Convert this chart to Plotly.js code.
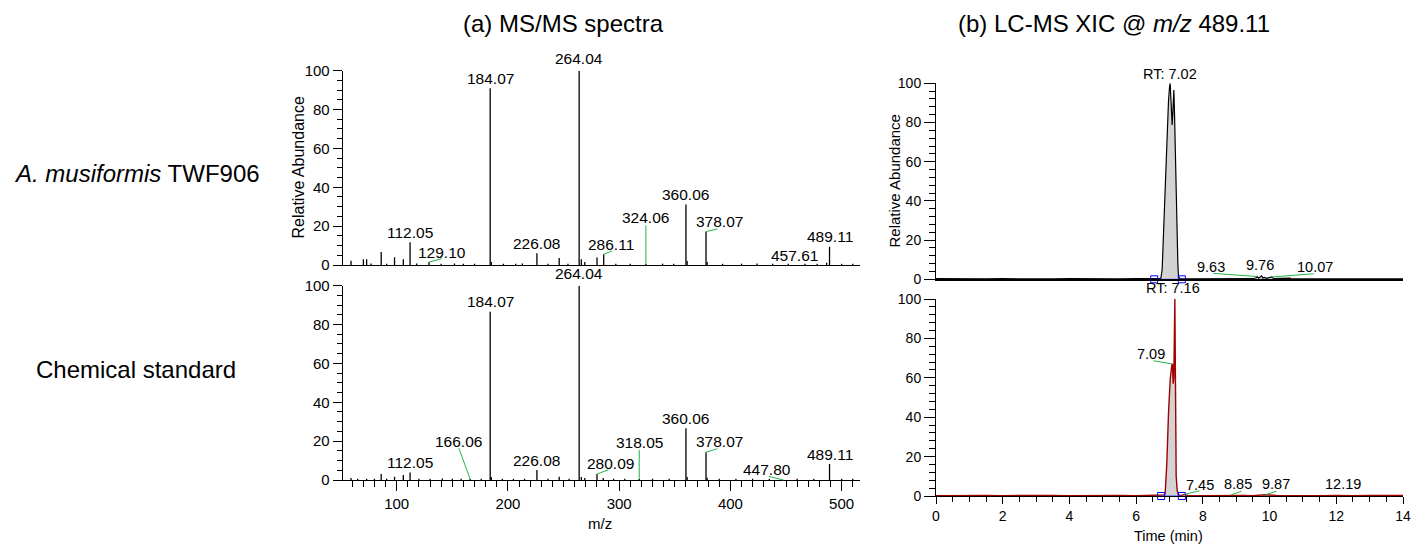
<!DOCTYPE html>
<html><head><meta charset="utf-8">
<script src="https://cdn.plot.ly/plotly-3.0.1.min.js"></script>
<style>html,body{margin:0;padding:0;background:#fff}#chart{width:1428px;height:549px}</style>
</head><body><div id="chart"></div>
<script>
// ---------------- DATA ----------------
// (a) MS/MS spectrum, A. musiformis TWF906
const specA_mz  = [59.0, 70.1, 73.0, 77.0, 86.1, 91.0, 98.1, 106.0, 112.05, 118.0,
                   129.10, 140.0, 152.0, 160.0, 170.0, 184.07, 185.1, 196.0, 207.0, 213.0,
                   226.08, 236.0, 246.1, 254.0, 264.04, 266.0, 269.1, 280.1, 286.11, 297.0,
                   310.0, 324.06, 339.0, 349.0, 360.06, 361.1, 378.07, 379.1, 393.0, 410.0,
                   424.0, 438.0, 452.0, 457.61, 467.0, 478.0, 486.5, 489.11, 500.0, 510.0];
const specA_int = [2.2, 3.0, 3.0, 0.8, 6.7, 0.7, 4.0, 3.0, 11.7, 0.8,
                   1.5, 0.6, 0.8, 0.6, 0.7, 91.0, 1.5, 0.6, 0.7, 0.8,
                   6.0, 0.6, 3.6, 0.7, 100, 3.0, 1.5, 3.8, 5.5, 0.7,
                   0.6, 0.6, 0.7, 0.6, 31.2, 2.0, 17.2, 1.5, 0.6, 0.7,
                   0.8, 0.6, 0.7, 0.0, 0.6, 0.7, 1.2, 9.4, 0.6, 0.7];
const specA_labels = ["112.05","129.10","184.07","226.08","264.04","286.11","324.06","360.06","378.07","457.61","489.11"];

// (a) MS/MS spectrum, chemical standard
const specB_mz  = [59.0, 65.0, 73.0, 80.0, 86.1, 91.0, 98.1, 106.0, 112.05, 120.0,
                   130.0, 141.0, 150.0, 158.0, 166.06, 176.0, 184.07, 185.1, 195.0, 205.0,
                   215.0, 226.08, 236.0, 246.1, 255.0, 264.04, 266.0, 269.1, 280.09, 285.7,
                   295.0, 305.0, 318.05, 330.0, 345.0, 360.06, 361.1, 378.07, 379.1, 390.0,
                   405.0, 420.0, 435.0, 447.80, 460.0, 475.0, 489.11, 500.0, 510.0];
const specB_int = [1.0, 0.6, 0.7, 0.6, 3.1, 0.6, 1.7, 2.6, 3.8, 0.7,
                   0.6, 0.8, 0.6, 0.7, 0.5, 0.6, 86.6, 1.5, 0.6, 0.7,
                   0.6, 5.1, 0.7, 1.7, 0.6, 100, 1.5, 1.0, 3.1, 1.0,
                   0.6, 0.7, 0.5, 0.6, 0.7, 26.6, 1.5, 14.3, 1.2, 0.6,
                   0.7, 0.6, 0.7, 0.0, 0.6, 0.7, 8.2, 0.6, 0.7];
const specB_labels = ["112.05","166.06","184.07","226.08","264.04","280.09","318.05","360.06","378.07","447.80","489.11"];

// (b) LC-MS XIC @ m/z 489.11, A. musiformis TWF906
const xicA_t   = [0, 0.5, 1, 1.5, 2, 2.5, 3, 3.5, 4, 4.5, 5, 5.5, 6, 6.5,
                  6.74, 6.78, 6.82, 6.86, 6.9, 6.94, 6.97, 7.0, 7.02, 7.04,
                  7.06, 7.08, 7.1, 7.13, 7.15, 7.17, 7.2, 7.22, 7.25, 7.27,
                  7.32, 7.5, 8, 8.5, 9, 9.5, 9.6, 9.63, 9.67, 9.72,
                  9.76, 9.8, 9.85, 9.9, 10.0, 10.07, 10.12, 10.6, 10.65, 11,
                  11.5, 12, 12.5, 13, 13.5, 14];
const xicA_int = [0.3, 0.2, 0.3, 0.2, 0.3, 0.2, 0.3, 0.2, 0.3, 0.2, 0.3, 0.2, 0.3, 0.3,
                  0.5, 5, 23.5, 45, 66, 82, 91, 98, 100, 93,
                  84, 78.7, 85, 96.6, 85, 66, 42, 23.5, 8, 1.3,
                  0.3, 0.2, 0.3, 0.2, 0.3, 0.3, 0.8, 1.4, 0.6, 1.2,
                  1.8, 0.7, 1.0, 0.5, 0.8, 1.2, 0.3, 0.6, 0.2, 0.2,
                  0.3, 0.2, 0.3, 0.2, 0.3, 0.2];
const xicA_label_t    = [7.02, 9.63, 9.76, 10.07];
const xicA_label_text = ["RT: 7.02", "9.63", "9.76", "10.07"];
const xicA_bounds = [6.54, 7.37];

// (b) LC-MS XIC @ m/z 489.11, chemical standard
const xicB_t   = [0, 0.5, 1, 1.5, 2, 2.5, 3, 3.5, 4, 4.5, 5, 5.5, 6, 6.5,
                  6.75, 6.84, 6.87, 6.92, 6.97, 7.02, 7.07, 7.09, 7.11, 7.13,
                  7.16, 7.18, 7.20, 7.23, 7.26, 7.3, 7.37, 7.45, 7.55, 8,
                  8.5, 8.85, 9.2, 9.5, 9.87, 10.2, 10.5, 11, 11.5, 12,
                  12.19, 12.5, 13, 13.5, 14];
const xicB_int = [0.2, 0.3, 0.2, 0.3, 0.2, 0.3, 0.2, 0.3, 0.2, 0.3, 0.2, 0.3, 0.2, 0.3,
                  0.3, 0.5, 1.4, 16.6, 42, 59, 66.5, 67, 57, 60,
                  100, 45, 10, 3, 1, 0.4, 0.3, 0.8, 0.3, 0.2,
                  0.3, 0.6, 0.3, 0.2, 0.6, 0.3, 0.2, 0.3, 0.2, 0.3,
                  0.4, 0.2, 0.3, 0.2, 0.3];
const xicB_label_t    = [7.16, 7.09, 7.45, 8.85, 9.87, 12.19];
const xicB_label_text = ["RT: 7.16", "7.09", "7.45", "8.85", "9.87", "12.19"];
const xicB_bounds = [6.75, 7.37];

const mzTicks = [100, 200, 300, 400, 500];
const timeTicks = [0, 2, 4, 6, 8, 10, 12, 14];
const abundTicks = [0, 20, 40, 60, 80, 100];

// ---------------- STYLE ----------------
const FONT = "Liberation Sans, Arial, Helvetica, sans-serif";
const GREEN = "#22b448";
const W = 1428, H = 549;
const px2x = p => p / W, px2y = p => 1 - p / H;

// label offsets in px (label centre relative to peak top; c = connector tail)
const offA = {"129.10":{dx:13,dy:-9.5,cx:14,cy:-3.8}, "286.11":{dx:7.6,dy:-10,cx:10,cy:-4},
              "324.06":{dx:0,dy:-46,cx:0,cy:-40}, "378.07":{dx:13,dy:-10,cx:13,cy:-3},
              "264.04":{dx:0,dy:-12}};
const offB = {"166.06":{dx:-11.3,dy:-37.5,cx:-11.8,cy:-32.3}, "280.09":{dx:13.5,dy:-10.8,cx:13,cy:-4.7},
              "318.05":{dx:0.3,dy:-36.5,cx:0,cy:-30.7}, "378.07":{dx:13,dy:-10.8,cx:13,cy:-4},
              "447.80":{dx:-16.4,dy:-10.2,cx:-16.3,cy:-4}, "264.04":{dx:0,dy:-12.5}};
const offXA = {"RT: 7.02":{dx:0,dy:-9.2}, "9.63":{dx:-46,dy:-9.8,cx:-45.3,cy:-3.3},
               "9.76":{dx:-2,dy:-10.6}, "10.07":{dx:43,dy:-9.8,cx:43.3,cy:-3.3}};
const offXB = {"RT: 7.16":{dx:-1.4,dy:-10.7}, "7.09":{dx:-21.3,dy:-10.3,cx:-20.6,cy:-3.5},
               "7.45":{dx:15.2,dy:-9.5,cx:16.7,cy:-4}, "8.85":{dx:6.8,dy:-10.5,cx:11.7,cy:-4},
               "9.87":{dx:11.2,dy:-10.5,cx:12.7,cy:-4}, "12.19":{dx:0,dy:-11}};

function sticks(mz, it, xa, ya) {
  const x = [], y = [];
  mz.forEach((m, i) => { x.push(m, m, null); y.push(0, it[i], null); });
  return {type:"scatter", mode:"lines", x, y, xaxis:xa, yaxis:ya,
          line:{color:"#000", width:1.3}, hoverinfo:"skip", showlegend:false};
}
function xic(t, v, xa, ya, color, w) {
  return {type:"scatter", mode:"lines", x:t, y:v, xaxis:xa, yaxis:ya, fill:"tozeroy",
          fillcolor:"#d3d3d3", line:{color, width:w}, hoverinfo:"skip", showlegend:false};
}
function bounds(b, xa, ya) {
  return {type:"scatter", mode:"lines+markers", x:b, y:[0, 0], xaxis:xa, yaxis:ya, cliponaxis:false,
          line:{color:"#3344ff", width:1}, marker:{symbol:"square-open", size:7, color:"#0000ff", line:{width:1}},
          hoverinfo:"skip", showlegend:false};
}

const annotations = [];
function addLabels(texts, keyX, keyY, xs, ys, offs, xr, yr, fsize) {
  texts.forEach((txt, k) => {
    const xv = keyX[k];
    const idx = xs.findIndex(v => Math.abs(v - xv) < 1e-6);
    const yv = ys[idx];
    const o = Object.assign({dx:0, dy:-10}, offs[txt] || {});
    annotations.push({x:xv, y:yv, xref:xr, yref:yr, text:txt, showarrow:false,
      xanchor:"center", yanchor:"middle", xshift:o.dx, yshift:-o.dy,
      font:{family:FONT, size:fsize, color:"#000"}});
    if (o.cx !== undefined) {
      annotations.push({x:xv, y:yv, xref:xr, yref:yr, text:"", showarrow:true, arrowhead:0,
        arrowwidth:1, arrowcolor:GREEN, ax:o.cx, ay:o.cy, axref:"pixel", ayref:"pixel", standoff:0, startstandoff:0});
    }
  });
}
addLabels(specA_labels, specA_labels.map(parseFloat), null, specA_mz, specA_int, offA, "x", "y", 15.5);
addLabels(specB_labels, specB_labels.map(parseFloat), null, specB_mz, specB_int, offB, "x2", "y2", 15.5);
addLabels(xicA_label_text, xicA_label_t, null, xicA_t, xicA_int, offXA, "x3", "y3", 14.5);
addLabels(xicB_label_text, xicB_label_t, null, xicB_t, xicB_int, offXB, "x4", "y4", 14.5);

function paperText(text, cx, cy, size, angle) {
  annotations.push({xref:"paper", yref:"paper", x:px2x(cx), y:px2y(cy), text, showarrow:false,
    xanchor:"center", yanchor:"middle", textangle:angle || 0, font:{family:FONT, size, color:"#000"}});
}
paperText("(a) MS/MS spectra", 563, 23, 24);
paperText("(b) LC-MS XIC @ <i>m/z</i> 489.11", 1114, 23, 24);
paperText("<i>A. musiformis</i> TWF906", 136.5, 173, 24);
paperText("Chemical standard", 135.5, 369, 24);
paperText("Relative Abundance", 297.5, 168, 16, -90);
paperText("Relative Abundance", 894, 181.5, 15, -90);
paperText("m/z", 600, 523, 15);
paperText("Time (min)", 1168, 536, 14.5);

const xL = [px2x(342.7), px2x(860)];
const xR = [px2x(936), px2x(1403)];
const yAxisBase = (fs, tl, mtl, mdt) => ({range:[0, 100], tickmode:"array", tickvals:abundTicks,
  ticks:"outside", ticklen:tl, tickwidth:1, tickcolor:"#000", showline:true, linecolor:"#000", linewidth:1,
  showgrid:false, zeroline:false, fixedrange:true,
  tickfont:{family:FONT, size:fs, color:"#000"},
  minor:{dtick:mdt, tick0:0, ticks:"outside", ticklen:mtl, tickcolor:"#000", tickwidth:1, showgrid:false}});

const layout = {
  width:W, height:H, margin:{l:0, r:0, t:0, b:0}, paper_bgcolor:"#fff", plot_bgcolor:"#fff",
  showlegend:false, font:{family:FONT, color:"#000"},
  xaxis:{domain:xL, anchor:"y", range:[51.5, 516.5], showline:true, linecolor:"#000", linewidth:1,
         ticks:"", showticklabels:false, showgrid:false, zeroline:false},
  yaxis:Object.assign(yAxisBase(15, 9, 5, 5), {domain:[px2y(265), px2y(70.7)], anchor:"x"}),
  xaxis2:{domain:xL, anchor:"y2", range:[51.5, 516.5], showline:true, linecolor:"#000", linewidth:1,
          tickmode:"array", tickvals:mzTicks, ticks:"outside", ticklen:10, tickcolor:"#000",
          tickfont:{family:FONT, size:15, color:"#000"}, showgrid:false, zeroline:false,
          minor:{dtick:10, tick0:0, ticks:"outside", ticklen:6, tickcolor:"#000", showgrid:false}},
  yaxis2:Object.assign(yAxisBase(15, 9, 5, 5), {domain:[px2y(480), px2y(285.7)], anchor:"x2"}),
  xaxis3:{domain:xR, anchor:"y3", range:[0, 14], showline:true, linecolor:"#000", linewidth:1.5,
          ticks:"", showticklabels:false, showgrid:false, zeroline:false},
  yaxis3:Object.assign(yAxisBase(14, 11, 6, 4), {domain:[px2y(279.3), px2y(83.3)], anchor:"x3"}),
  xaxis4:{domain:xR, anchor:"y4", range:[0, 14], showline:true, linecolor:"#000", linewidth:1,
          tickmode:"array", tickvals:timeTicks, ticks:"outside", ticklen:7, tickcolor:"#000",
          tickfont:{family:FONT, size:14, color:"#000"}, showgrid:false, zeroline:false,
          minor:{dtick:0.5, tick0:0, ticks:"outside", ticklen:5, tickcolor:"#000", showgrid:false}},
  yaxis4:Object.assign(yAxisBase(14, 11, 6, 4), {domain:[px2y(496), px2y(299)], anchor:"x4"}),
  annotations
};

const data = [
  sticks(specA_mz, specA_int, "x", "y"),
  sticks(specB_mz, specB_int, "x2", "y2"),
  xic(xicA_t, xicA_int, "x3", "y3", "#000", 1.2),
  bounds(xicA_bounds, "x3", "y3"),
  xic(xicB_t, xicB_int, "x4", "y4", "#a00000", 1.4),
  bounds(xicB_bounds, "x4", "y4")
];
Plotly.newPlot("chart", data, layout, {staticPlot:true, displayModeBar:false});
</script>
</body></html>
